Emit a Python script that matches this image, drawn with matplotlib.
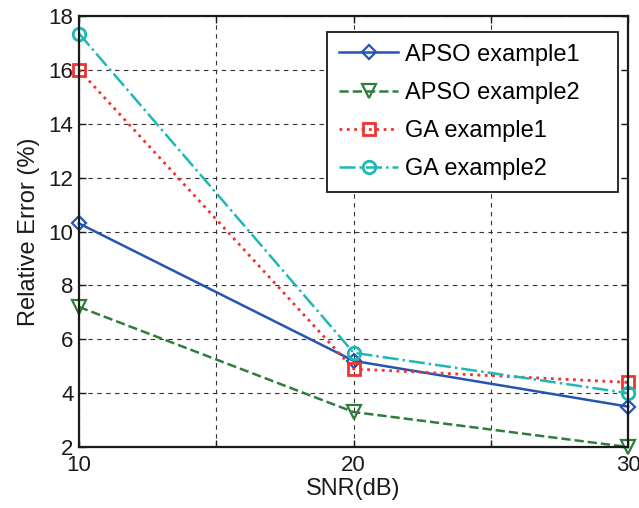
import matplotlib
matplotlib.use("Agg")
import matplotlib.pyplot as plt

# data
snr = [10, 20, 30]
apso_ex1 = [10.3, 5.2, 3.5]
apso_ex2 = [7.2, 3.3, 2.0]
ga_ex1 = [16.0, 4.9, 4.4]
ga_ex2 = [17.35, 5.5, 4.0]

plt.rcParams['font.family'] = ['Liberation Sans', 'DejaVu Sans']

fig = plt.figure(figsize=(6.39, 5.08), dpi=100)
ax = fig.add_axes([0.1236, 0.120, 0.8594, 0.8485])

ax.plot(snr, apso_ex1, '-', color='#2456b0', lw=1.8, marker='D', ms=7,
        mfc='none', mec='#2456b0', mew=1.6, label='APSO example1', clip_on=False)
ax.plot(snr, apso_ex2, '--', color='#2e7d3a', lw=1.8, marker='v', ms=10,
        mfc='none', mec='#2e7d3a', mew=1.6, label='APSO example2', clip_on=False)
ax.plot(snr, ga_ex1, ':', color='#f03232', lw=2.0, marker='s', ms=9,
        mfc='none', mec='#f03232', mew=2.0, label='GA example1', clip_on=False)
ax.plot(snr, ga_ex2, '-.', color='#1fb8b4', lw=1.8, marker='o', ms=9,
        mfc='none', mec='#1fb8b4', mew=2.0, label='GA example2', clip_on=False)

ax.set_xlim(10, 30)
ax.set_ylim(2, 18)
ax.set_xticks([10, 15, 20, 25, 30])
ax.set_xticklabels(['10', '', '20', '', '30'])
ax.set_yticks(range(2, 19, 2))
ax.tick_params(direction='in', labelsize=16, top=True, right=True, length=5, width=1,
               colors='#1a1a1a')
ax.tick_params(axis='x', pad=6)
ax.tick_params(axis='y', pad=4)
ax.grid(True, linestyle=(0, (4, 4)), color='#333333', lw=0.8)
for s in ax.spines.values():
    s.set_linewidth(1.6)
    s.set_color('#1a1a1a')

ax.set_xlabel('SNR(dB)', fontsize=17, labelpad=1, color='#1a1a1a')
ax.set_ylabel('Relative Error (%)', fontsize=17, labelpad=6, color='#1a1a1a')

leg = ax.legend(loc='upper left', bbox_to_anchor=(0.452, 0.0, 0.530, 0.963), mode='expand',
                fontsize=17, fancybox=False, framealpha=1, edgecolor='#1a1a1a',
                handlelength=2.5, handletextpad=0.3, borderpad=0.5, labelspacing=0.68,
                borderaxespad=0)
leg.get_frame().set_linewidth(1.3)

fig.savefig('out.png', dpi=100)
